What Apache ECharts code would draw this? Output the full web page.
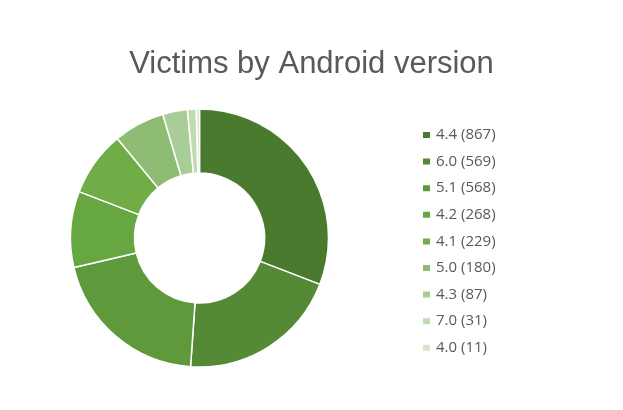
<!DOCTYPE html>
<html>
<head>
<meta charset="utf-8">
<script src="https://cdn.jsdelivr.net/npm/echarts@6/dist/echarts.min.js"></script>
<style>
html,body{margin:0;padding:0;background:#fff;}
#chart{width:623px;height:410px;}
</style>
</head>
<body>
<div id="chart"></div>
<script>
const versions = ['4.4','6.0','5.1','4.2','4.1','5.0','4.3','7.0','4.0'];
const victims = [867,569,568,268,229,180,87,31,11];
const colors = ['#4A7A2E','#548A35','#5E9A3C','#67A742','#70AD47','#8DBC72','#A9CD96','#C1DBB2','#D4E6CA'];

const chart = echarts.init(document.getElementById('chart'));
const data = versions.map((v,i)=>({name:v, value:victims[i], itemStyle:{color:colors[i]}}));
chart.setOption({
  animation:false,
  backgroundColor:'#fff',
  title:{
    text:'Victims by Android version',
    left:'center',
    top:44,
    textStyle:{fontFamily:'Liberation Sans',fontSize:31,fontWeight:'normal',color:'#595959'}
  },
  legend:{
    orient:'vertical',
    left:416,
    top:122,
    icon:'rect',
    itemWidth:9,
    itemHeight:8,
    itemGap:10.6,
    textStyle:{fontFamily:"'Open Sans', sans-serif",fontSize:15,color:'#595959',lineHeight:16},
    formatter:function(n){const i=versions.indexOf(n);return n+' ('+victims[i]+')';},
    data:versions
  },
  series:[{
    type:'pie',
    center:[199.5,238],
    radius:[65,129],
    startAngle:90,
    clockwise:true,
    label:{show:false},
    labelLine:{show:false},
    itemStyle:{borderColor:'#fff',borderWidth:1.5},
    emphasis:{disabled:true},
    data:data
  }]
});
</script>
</body>
</html>
